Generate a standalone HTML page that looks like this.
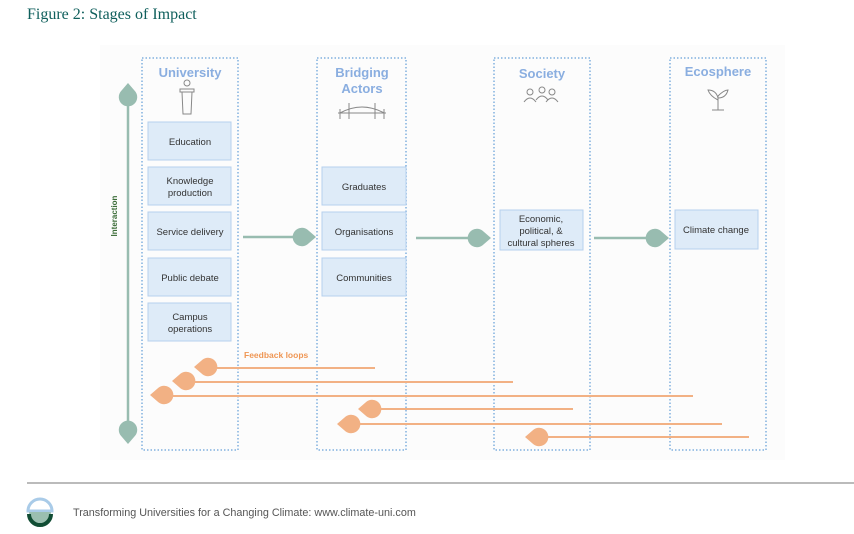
<!DOCTYPE html>
<html><head><meta charset="utf-8"><style>
body{margin:0;background:#fff;width:854px;height:534px;overflow:hidden}
svg{display:block}
</style></head><body>
<svg width="854" height="534" viewBox="0 0 854 534" xmlns="http://www.w3.org/2000/svg">
<defs>
<path id="td" d="M -14 0 L -5.6 -7.2 A 9.2 9.2 0 1 1 -5.6 7.2 Z"/>
</defs>
<text x="27" y="19" font-family="Liberation Serif, serif" font-size="16" fill="#0f5f5c">Figure 2: Stages of Impact</text>
<rect x="100" y="45" width="685" height="415" fill="#fcfcfc"/>
<g fill="none" stroke="#9fc3e6" stroke-width="2" stroke-dasharray="1.5 2">
<rect x="142" y="58" width="96" height="392"/>
<rect x="317" y="58" width="89" height="392"/>
<rect x="494" y="58" width="96" height="392"/>
<rect x="670" y="58" width="96" height="392"/>
</g>
<g font-family="Liberation Sans, sans-serif" font-weight="bold" font-size="13" fill="#8aaee0" text-anchor="middle">
<text x="190" y="77">University</text>
<text x="362" y="77">Bridging</text><text x="362" y="93">Actors</text>
<text x="542" y="78">Society</text>
<text x="718" y="76">Ecosphere</text>
</g>
<g fill="none" stroke="#888" stroke-width="1">
<circle cx="187" cy="83" r="3"/><path d="M180 89h14v3h-14zM182 92l1 22h8l1-22"/>
<path d="M340 113q22-12 44 0M340 109v10M384 109v10M349 103v16M375 103v16M338 113h48"/>
<circle cx="530" cy="92" r="3"/><circle cx="542" cy="90" r="3"/><circle cx="552" cy="92" r="3"/><path d="M524 102q6-8 12 0M536 100q6-8 12 0M546 102q6-8 12 0"/>
<path d="M718 110v-14M718 100q-8-4-10-10q8 0 10 8M718 96q6-6 10-6q-2 8-10 8M712 110h12"/>
</g>
<g fill="#deebf8" stroke="#b6d0ee" stroke-width="1">
<rect x="148" y="122" width="83" height="38"/>
<rect x="148" y="167" width="83" height="38"/>
<rect x="148" y="212" width="83" height="38"/>
<rect x="148" y="258" width="83" height="38"/>
<rect x="148" y="303" width="83" height="38"/>
<rect x="322" y="167" width="84" height="38"/>
<rect x="322" y="212" width="84" height="38"/>
<rect x="322" y="258" width="84" height="38"/>
<rect x="500" y="210" width="83" height="40"/>
<rect x="675" y="210" width="83" height="39"/>
</g>
<g font-family="Liberation Sans, sans-serif" font-size="9.5" fill="#333" text-anchor="middle">
<text x="190" y="145">Education</text>
<text x="190" y="184">Knowledge</text><text x="190" y="196">production</text>
<text x="190" y="235">Service delivery</text>
<text x="190" y="281">Public debate</text>
<text x="190" y="320">Campus</text><text x="190" y="332">operations</text>
<text x="364" y="190">Graduates</text>
<text x="364" y="235">Organisations</text>
<text x="364" y="281">Communities</text>
<text x="541" y="222">Economic,</text><text x="541" y="234">political, &amp;</text><text x="541" y="246">cultural spheres</text>
<text x="716" y="233">Climate change</text>
</g>
<g stroke="#98bcb0" stroke-width="2.5">
<line x1="128" y1="95" x2="128" y2="432"/>
<line x1="243" y1="237" x2="300" y2="237"/>
<line x1="416" y1="238" x2="474" y2="238"/>
<line x1="594" y1="238" x2="652" y2="238"/>
</g>
<g fill="#98bcb0">
<use href="#td" transform="translate(128,97) rotate(90)"/>
<use href="#td" transform="translate(128,430) rotate(-90)"/>
<use href="#td" transform="translate(302,237) rotate(180)"/>
<use href="#td" transform="translate(477,238) rotate(180)"/>
<use href="#td" transform="translate(655,238) rotate(180)"/>
</g>
<text x="117" y="216" transform="rotate(-90 117 216)" font-family="Liberation Sans, sans-serif" font-weight="bold" font-size="8" fill="#3d6e3a" text-anchor="middle">Interaction</text>
<text x="244" y="358" font-family="Liberation Sans, sans-serif" font-weight="bold" font-size="8.5" fill="#ef9654">Feedback loops</text>
<g stroke="#f2b184" stroke-width="2">
<line x1="207" y1="368" x2="375" y2="368"/>
<line x1="185" y1="382" x2="513" y2="382"/>
<line x1="163" y1="396" x2="693" y2="396"/>
<line x1="371" y1="409" x2="573" y2="409"/>
<line x1="350" y1="424" x2="722" y2="424"/>
<line x1="538" y1="437" x2="749" y2="437"/>
</g>
<g fill="#f2b184">
<use href="#td" transform="translate(208,367)"/>
<use href="#td" transform="translate(186,381)"/>
<use href="#td" transform="translate(164,395)"/>
<use href="#td" transform="translate(372,409)"/>
<use href="#td" transform="translate(351,424)"/>
<use href="#td" transform="translate(539,437)"/>
</g>
<line x1="27" y1="483" x2="854" y2="483" stroke="#777" stroke-width="1"/>
<path d="M28 511a12 12 0 0 1 24 0z" fill="#fff" stroke="#a9cbe8" stroke-width="3"/>
<path d="M29 512h22a11 11 0 0 1-22 0z" fill="#9bbfb0"/>
<path d="M29 514a11 11 0 0 0 22 0" fill="none" stroke="#114d34" stroke-width="4"/>
<text x="73" y="516" font-family="Liberation Sans, sans-serif" font-size="10.8" fill="#555">Transforming Universities for a Changing Climate: www.climate-uni.com</text>
</svg>
</body></html>
